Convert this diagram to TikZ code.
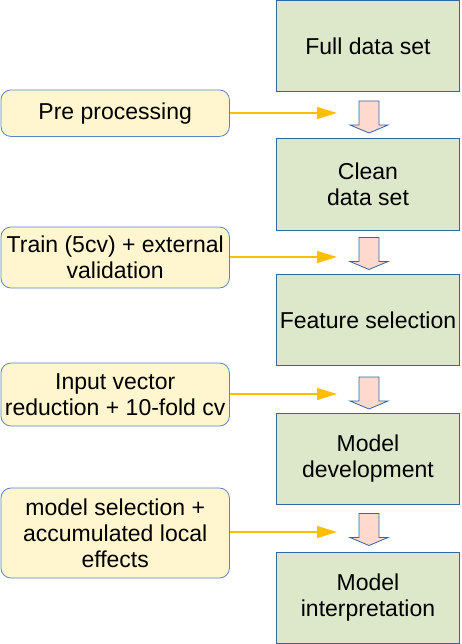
\documentclass[tikz,border=0pt]{standalone}
\usepackage{fontspec}
\setmainfont{Liberation Sans}
\usetikzlibrary{arrows.meta,calc}
\definecolor{gfill}{HTML}{DDE8CB}
\definecolor{yfill}{HTML}{FFF5CE}
\definecolor{bline}{HTML}{3465A4}
\definecolor{ybline}{HTML}{5B84C4}
\definecolor{oline}{HTML}{FFBF00}
\definecolor{pfill}{HTML}{FFD8CE}
\tikzset{
  stage/.style={draw=bline, line width=1pt, fill=gfill, minimum width=183.5pt, minimum height=91pt, inner sep=0pt, align=center, font=\fontsize{23}{26}\selectfont},
  note/.style={draw=ybline, line width=0.8pt, fill=yfill, rounded corners=10pt, minimum width=228.5pt, inner sep=0pt, align=center, font=\fontsize{23}{26}\selectfont},
  feed/.style={draw=oline, line width=1.4pt, -{Triangle[length=20pt,width=12pt]}},
  blockarrow/.style={draw=bline, line width=0.8pt, fill=pfill, line join=miter}
}
\newcommand{\blockarr}[1]{%
  \path[blockarrow] ($(#1)+(-10pt,0)$) -- ($(#1)+(10pt,0)$) -- ($(#1)+(10pt,-24pt)$) -- ($(#1)+(19pt,-24pt)$) -- ($(#1)+(0,-32pt)$) -- ($(#1)+(-19pt,-24pt)$) -- ($(#1)+(-10pt,-24pt)$) -- cycle;}
\begin{document}
\begin{tikzpicture}[x=1pt,y=1pt]
\useasboundingbox (0,0) rectangle (461,-644);
% stages
\node[stage] (s1) at (368,-46.5) {Full data set};
\node[stage] (s2) at (368,-184.5) {Clean\\data set};
\node[stage] (s3) at (368,-320) {Feature selection};
\node[stage] (s4) at (368,-458.5) {Model\\development};
\node[stage] (s5) at (368,-597.5) {Model\\interpretation};
% notes
\node[note, minimum height=46.5pt] (n1) at (115.2,-113.2) {Pre processing};
\node[note, minimum height=61pt] (n2) at (115.2,-257.5) {Train (5cv) + external\\validation};
\node[note, minimum height=63pt] (n3) at (115.2,-394.5) {Input vector\\reduction + 10-fold cv};
\node[note, minimum height=90pt] (n4) at (115.2,-533) {model selection +\\accumulated local\\effects};
% block arrow tops
\coordinate (a1) at (369,-101);
\coordinate (a2) at (369,-237.5);
\coordinate (a3) at (369,-377);
\coordinate (a4) at (369,-513.5);
\blockarr{a1}
\blockarr{a2}
\blockarr{a3}
\blockarr{a4}
% feed targets
\coordinate (t1) at (337,-113);
\coordinate (t2) at (337,-257);
\coordinate (t3) at (337,-394);
\coordinate (t4) at (337,-532);
\draw[feed] (n1.east |- t1) -- (t1);
\draw[feed] (n2.east |- t2) -- (t2);
\draw[feed] (n3.east |- t3) -- (t3);
\draw[feed] (n4.east |- t4) -- (t4);
\end{tikzpicture}
\end{document}
